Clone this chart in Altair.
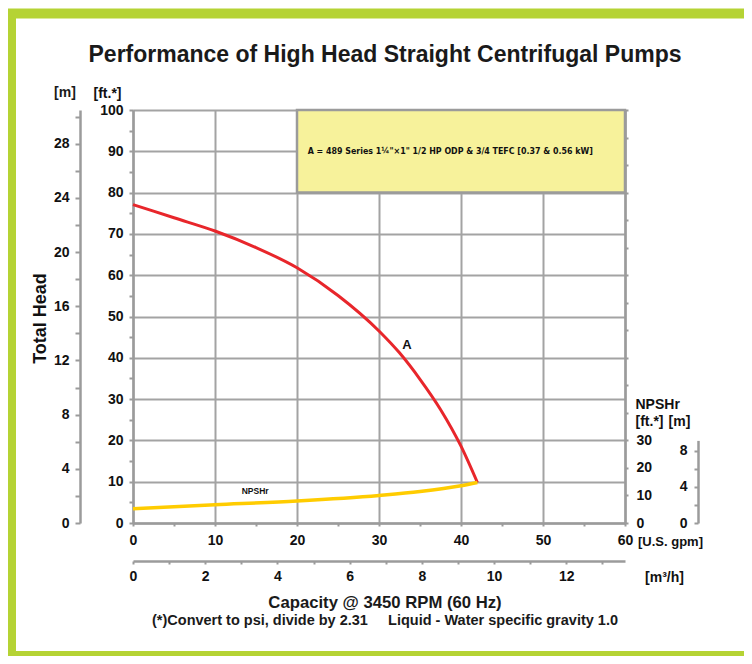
import altair as alt
import pandas as pd

# ---------------- data ----------------
TITLE = "Performance of High Head Straight Centrifugal Pumps"

GPM_A = [0, 5, 10, 15, 20, 25, 30, 32.5, 35, 37.5, 40, 42]
HEAD_A_FT = [77.1, 73.9, 70.7, 66.7, 61.8, 55.1, 46.5, 41.2, 34.8, 27.5, 18.6, 9.8]

GPM_NPSH = [0, 10, 20, 30, 35, 40, 42]
NPSHR_FT = [5.2, 6.6, 8.0, 10.0, 11.4, 13.5, 14.7]

GPM_LABELS = [0, 10, 20, 30, 40, 50, 60]
FT_LABELS = [0, 10, 20, 30, 40, 50, 60, 70, 80, 90, 100]
M_LABELS = [0, 4, 8, 12, 16, 20, 24, 28]
NPSH_FT_LABELS = [0, 10, 20, 30]
NPSH_M_LABELS = [0, 4, 8]
M3H_LABELS = [0, 2, 4, 6, 8, 10, 12]

LEGEND_TEXT = 'A = 489 Series 1\u00bc"\u00d71" 1/2 HP ODP & 3/4 TEFC [0.37 & 0.56 kW]'
CURVE_NAME = "A"
NPSH_NAME = "NPSHr"
X_TITLE = "Capacity @ 3450 RPM (60 Hz)"
FOOTNOTE = "(*)Convert to psi, divide by 2.31\u00a0\u00a0\u00a0\u00a0\u00a0Liquid - Water specific gravity 1.0"
UNIT_GPM = "[U.S. gpm]"
UNIT_M3H = "[m\u00b3/h]"
UNIT_FT = "[ft.*]"
UNIT_M = "[m]"
Y_TITLE = "Total Head"

FT_TO_M = 0.3048
GPM_TO_M3H = 0.2271247

# ---------------- style ----------------
W, H = 492, 413
GRAY = "#9b9b9b"
GRID = "#a3a3a3"
RED = "#e8262b"
YELLOW = "#ffcc00"
BOX = "#f7f29b"
GREEN = "#b5d334"
FONT = "Liberation Sans, Arial, sans-serif"
NARROW = "DejaVu Sans Condensed, DejaVu Sans, sans-serif"

GPM_MAX, FT_MAX, NPSH_MAX = 60, 100, 150

x_gpm = alt.Scale(domain=[0, GPM_MAX], nice=False)
y_ft = alt.Scale(domain=[0, FT_MAX], nice=False)
y_m = alt.Scale(domain=[0, FT_MAX * FT_TO_M], nice=False)
y_npsh = alt.Scale(domain=[0, NPSH_MAX], nice=False)
y_npsh_m = alt.Scale(domain=[0, 30 * FT_TO_M], range=[H, H - H * 30 / NPSH_MAX], nice=False)
x_m3h = alt.Scale(domain=[0, GPM_MAX * GPM_TO_M3H], nice=False)


def only(labels):
    return f"indexof({labels}, datum.value) >= 0 ? datum.label : ''"


def grid_on(labels):
    return {"condition": {"test": f"indexof({labels}, datum.value) >= 0", "value": 1}, "value": 0}


ax_gpm = alt.Axis(values=list(range(0, 61, 5)), labelExpr=only(GPM_LABELS), labelFlush=False,
                  labelOverlap=False, tickSize=3, labelPadding=7, grid=True,
                  gridOpacity=grid_on(GPM_LABELS), title=UNIT_GPM, titleAngle=0,
                  titleX=537, titleY=18, titleAlign="center", titleBaseline="middle",
                  titleFontSize=13)
ax_ft = alt.Axis(values=list(range(0, 101, 5)), labelExpr=only(FT_LABELS), labelOverlap=False,
                 tickSize=4, labelPadding=6, grid=True, gridOpacity=grid_on(FT_LABELS),
                 title=UNIT_FT, titleAngle=0, titleX=-26, titleY=-17, titleAlign="center",
                 titleBaseline="middle")
ax_m = alt.Axis(orient="left", offset=53, values=list(range(0, 31, 2)), labelExpr=only(M_LABELS),
                labelOverlap=False, tickSize=5, labelPadding=6, grid=False, title=Y_TITLE,
                titleAngle=270, titleX=-40, titleY=208, titleAlign="center",
                titleBaseline="middle", titleFontSize=18)
ax_npsh = alt.Axis(orient="right", values=list(range(0, 151, 10)), labelExpr=only(NPSH_FT_LABELS),
                   labelOverlap=False, tickSize=3, labelPadding=8, grid=False,
                   title=[NPSH_NAME, UNIT_FT], titleAngle=0, titleX=10, titleY=287,
                   titleAlign="left", titleBaseline="top", titleLineHeight=17)
ax_npsh_m = alt.Axis(orient="left", offset=-565, values=[0, 2, 4, 6, 8], labelExpr=only(NPSH_M_LABELS),
                     labelOverlap=False, tickSize=4, labelPadding=7, grid=False, title=UNIT_M,
                     titleAngle=0, titleX=-19, titleY=311, titleAlign="center",
                     titleBaseline="middle")
ax_m3h = alt.Axis(orient="bottom", offset=38, values=list(range(0, 14)), labelExpr=only(M3H_LABELS),
                  labelFlush=False, labelOverlap=False, tickSize=3, labelPadding=5, grid=False,
                  title=UNIT_M3H, titleAngle=0, titleX=531, titleY=16, titleAlign="center",
                  titleBaseline="middle")

head_df = pd.DataFrame({"gpm": GPM_A, "head": HEAD_A_FT})
npsh_df = pd.DataFrame({"gpm": GPM_NPSH, "npsh": NPSHR_FT})

# legend box
box = alt.Chart(pd.DataFrame({"t": [LEGEND_TEXT]})).mark_rect(
    fill=BOX, stroke=GRAY, strokeWidth=2.5).encode(
    x=alt.XDatum(20, scale=x_gpm, axis=None), x2=alt.X2Datum(60),
    y=alt.YDatum(80, scale=y_ft, axis=None), y2=alt.Y2Datum(100))

box_text = alt.Chart(pd.DataFrame({"t": [LEGEND_TEXT]})).mark_text(
    align="left", baseline="middle", font=NARROW, fontWeight="bold", fontSize=8.8,
    color="#111").encode(
    x=alt.XDatum(21.3, scale=x_gpm, axis=None), y=alt.YDatum(90, scale=y_ft, axis=None),
    text="t:N")

curve = alt.Chart(head_df).mark_line(color=RED, strokeWidth=3, interpolate="monotone").encode(
    x=alt.X("gpm:Q", scale=x_gpm, axis=ax_gpm),
    y=alt.Y("head:Q", scale=y_ft, axis=ax_ft))

curve_label = alt.Chart(pd.DataFrame({"t": [CURVE_NAME]})).mark_text(
    font=FONT, fontWeight="bold", fontSize=13, color="#111").encode(
    x=alt.XDatum(33.4, scale=x_gpm, axis=None), y=alt.YDatum(43.2, scale=y_ft, axis=None),
    text="t:N")

npsh_line = alt.Chart(npsh_df).mark_line(color=YELLOW, strokeWidth=3.5, interpolate="monotone").encode(
    x=alt.X("gpm:Q", scale=x_gpm, axis=None),
    y=alt.Y("npsh:Q", scale=y_npsh, axis=ax_npsh))

npsh_label = alt.Chart(pd.DataFrame({"t": [NPSH_NAME]})).mark_text(
    font=FONT, fontWeight="bold", fontSize=8.5, color="#111").encode(
    x=alt.XDatum(14.9, scale=x_gpm, axis=None), y=alt.YDatum(11.5, scale=y_npsh, axis=None),
    text="t:N")

m_axis = alt.Chart(pd.DataFrame({"v": M_LABELS})).mark_point(opacity=0).encode(
    y=alt.Y("v:Q", scale=y_m, axis=ax_m))

npsh_m_axis = alt.Chart(pd.DataFrame({"v": NPSH_M_LABELS})).mark_point(opacity=0).encode(
    y=alt.Y("v:Q", scale=y_npsh_m, axis=ax_npsh_m))

m3h_axis = alt.Chart(pd.DataFrame({"v": M3H_LABELS})).mark_point(opacity=0).encode(
    x=alt.X("v:Q", scale=x_m3h, axis=ax_m3h))


def free_text(txt, x, y, size, font=FONT, align="center"):
    return alt.Chart(pd.DataFrame({"t": [txt]})).mark_text(
        font=font, fontWeight="bold", fontSize=size, color="#1a1a1a", align=align,
        baseline="middle").encode(x=alt.value(x), y=alt.value(y), text="t:N")


title = free_text(TITLE, 252, -55, 23)
m_unit = free_text(UNIT_M, -68, -17, 14)
x_title = free_text(X_TITLE, 252, 493, 16.7)
foot = free_text(FOOTNOTE, 252, 511, 14.5)

frame = alt.Chart(pd.DataFrame({"t": [TITLE]})).mark_rect(
    fillOpacity=0, stroke=GREEN, strokeWidth=10).encode(
    x=alt.value(-122), x2=alt.value(640), y=alt.value(-96.5), y2=alt.value(546))

chart = alt.layer(
    frame, curve, box, box_text, curve_label, npsh_line, npsh_label,
    m_axis, npsh_m_axis, m3h_axis, title, m_unit, x_title, foot
).resolve_scale(x="independent", y="independent").properties(
    width=W, height=H, autosize="none",
    padding={"left": 125, "top": 102, "right": 119, "bottom": 133},
).configure_view(strokeWidth=0).configure_axis(
    labelFont=FONT, labelFontWeight="bold", labelFontSize=14, labelColor="#111",
    domainColor=GRAY, domainWidth=2.5, tickColor=GRAY, tickWidth=2,
    gridColor=GRID, gridWidth=2, titleFont=FONT, titleFontWeight="bold", titleFontSize=14,
    titleColor="#111",
)

chart.save("out.html", embed_options={"renderer": "svg", "actions": False})
